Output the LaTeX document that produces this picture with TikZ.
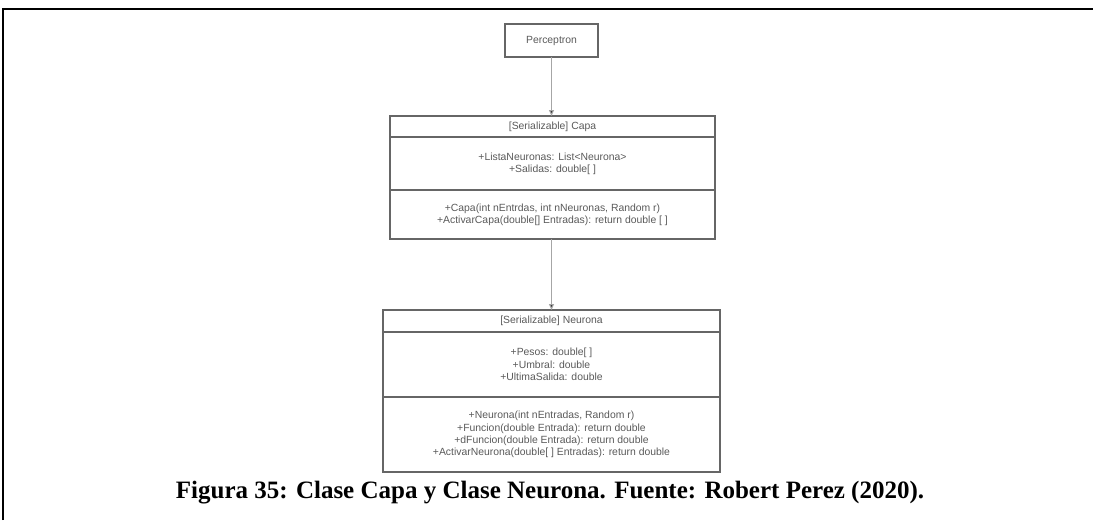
\documentclass[tikz,border=0pt]{standalone}
\usepackage{fontspec}
\setmainfont{Liberation Serif}
\newfontfamily\umlfont{Liberation Sans}
\usetikzlibrary{arrows.meta}
\begin{document}
\begin{tikzpicture}[x=1pt,y=-1pt,
  part/.style={draw=black!60,line width=1.1pt,inner sep=0pt,outer sep=0pt,
    align=center,font=\umlfont\fontsize{10.4}{12.3}\selectfont,text=black!65},
  link/.style={draw=black!35,line width=1pt,-{Triangle[length=6pt,width=5pt,fill=black!85]}}]
\useasboundingbox (0,0) rectangle (1094,520);
% frame
\draw[line width=1.6pt,black] (3,520) -- (3,9) -- (1093,9);
% Perceptron
\node[part,minimum width=93pt,minimum height=33pt] (perc) at (551.5,40.5) {Perceptron};
% Capa
\node[part,anchor=north,minimum width=325pt,minimum height=21pt] (capaH) at (552.5,116) {[Serializable] Capa};
\node[part,anchor=north,minimum width=325pt,minimum height=53pt] (capaA) at (capaH.south)
  {+ListaNeuronas: List<Neurona>\\+Salidas: double[ ]};
\node[part,anchor=north,minimum width=325pt,minimum height=49pt] (capaM) at (capaA.south)
  {+Capa(int nEntrdas, int nNeuronas, Random r)\\+ActivarCapa(double[] Entradas): return double [ ]};
% Neurona
\node[part,anchor=north,minimum width=337pt,minimum height=22pt] (neuH) at (551.5,310) {[Serializable] Neurona};
\node[part,anchor=north,minimum width=337pt,minimum height=65pt] (neuA) at (neuH.south)
  {+Pesos: double[ ]\\+Umbral: double\\+UltimaSalida: double};
\node[part,anchor=north,minimum width=337pt,minimum height=75pt] (neuM) at (neuA.south)
  {+Neurona(int nEntradas, Random r)\\+Funcion(double Entrada): return double\\+dFuncion(double Entrada): return double\\+ActivarNeurona(double[ ] Entradas): return double};
% associations
\draw[link] (perc.south) -- (perc.south |- capaH.north);
\draw[link] (551.5,0 |- capaM.south) coordinate (cm) (cm) -- (cm |- neuH.north);
% caption
\node[font=\bfseries\fontsize{25}{28}\selectfont] (cap) at (550,493)
  {Figura 35: Clase Capa y Clase Neurona. Fuente: Robert Perez (2020).};
\end{tikzpicture}
\end{document}
